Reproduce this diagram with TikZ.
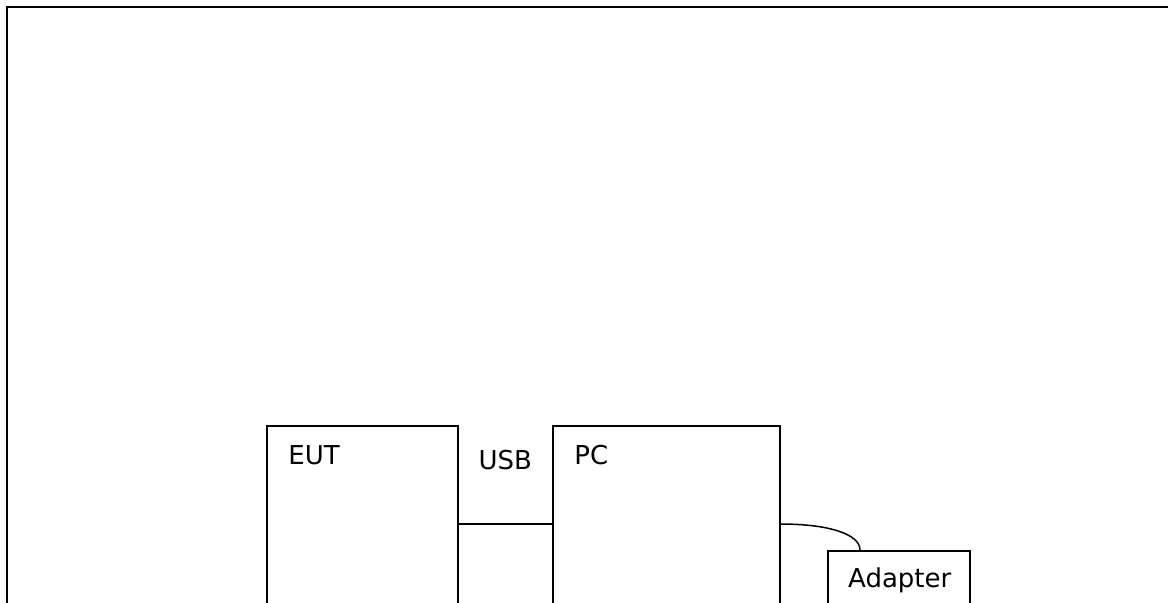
\documentclass[tikz,border=0pt]{standalone}
\usepackage{fontspec}
\setmainfont{DejaVu Sans}
\usepackage{tikz}
\usetikzlibrary{calc,positioning}
\definecolor{ink}{HTML}{000000}
\newcommand{\Lbl}{\fontsize{13}{15.5}\selectfont}

\begin{document}
\begin{tikzpicture}[x=0.5pt,y=-0.5pt, font=\Lbl,
    unit/.style={draw=ink, line width=0.75pt, inner sep=0pt, anchor=north west},
    lbl/.style={text=ink, inner sep=0pt, anchor=north west},
    wire/.style={draw=ink, line width=0.75pt}]
      \useasboundingbox (0,0) rectangle (1168,602);
      \clip (0,0) rectangle (1168,602);
      \draw[ink, line width=1.1pt] (7,7) rectangle (1200,660); % frame runs off the page
      % units (all boxes run past the lower edge)
      \node[unit, minimum width=95.5pt, minimum height=130pt] (eut) at (266,425) {};
      \node[unit, minimum width=113.5pt, minimum height=130pt] (pc) at (552,425) {};
      \node[unit, minimum width=71pt, minimum height=60pt] (adp) at (827,550) {};
      \node[lbl] (eutlbl) at ([shift={(22,20)}]eut.north west) {EUT};
      \node[lbl] (pclbl) at ([shift={(22,20)}]pc.north west) {PC};
      \node[lbl, anchor=north] (usblbl) at ($(eut.north east)!0.5!(pc.north west)+(0,25)$) {USB};
      \node[lbl, anchor=north] (adplbl) at ([shift={(1,17)}]adp.north) {Adapter};
      \coordinate (cable) at (0,524);
      \coordinate (plug) at (860,0);
      \draw[wire] (eut.east |- cable) -- (pc.west |- cable);
      \draw[wire] (pc.east |- cable) .. controls +(48,0) and +(0,-16) .. (adp.north -| plug);
    \end{tikzpicture}
\end{document}
